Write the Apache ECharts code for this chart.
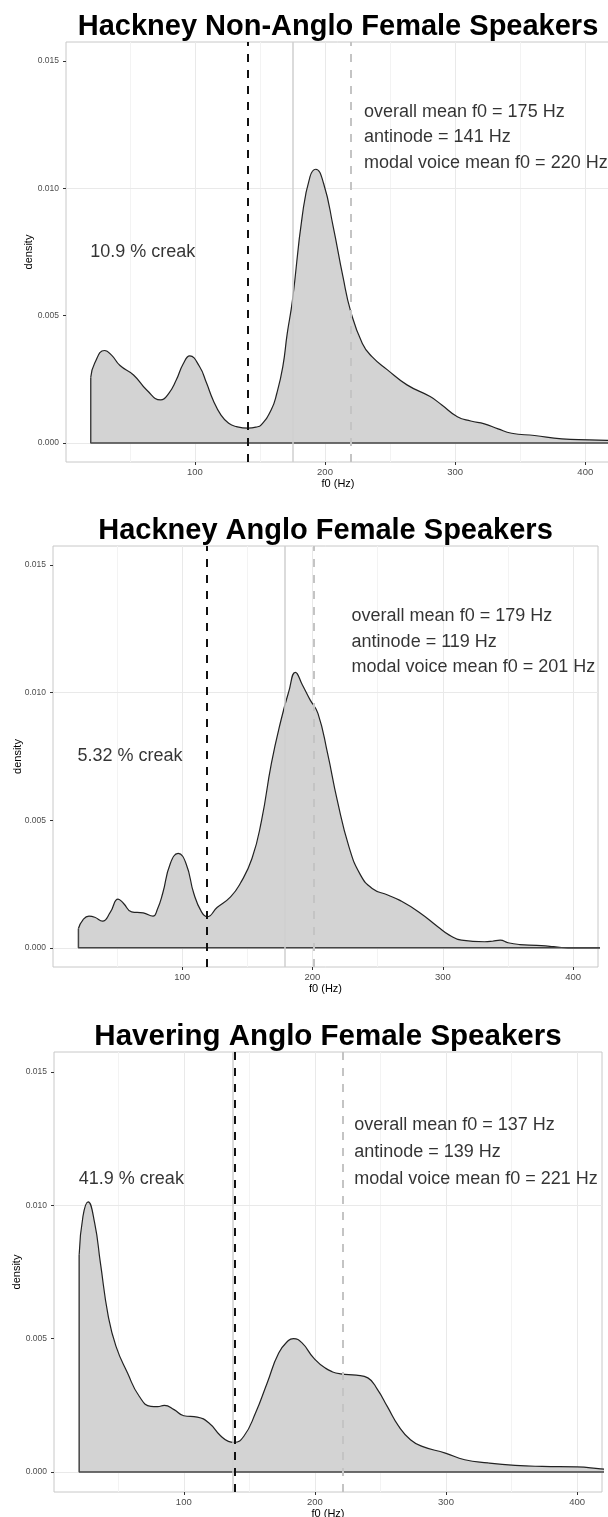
<!DOCTYPE html>
<html><head><meta charset="utf-8">
<script src="https://cdn.jsdelivr.net/npm/echarts@6/dist/echarts.min.js"></script>
<style>html,body{margin:0;padding:0;background:#fff}#c{width:608px;height:1517px}</style>
</head><body><div id="c"></div>
<script>
// ---- data ----
const titles = ['Hackney Non-Anglo Female Speakers', 'Hackney Anglo Female Speakers', 'Havering Anglo Female Speakers'];
const creakText = ['10.9 % creak', '5.32 % creak', '41.9 % creak'];
const creakX = [60, 60, 60];
const creakY = [0.0075, 0.0075, 0.011];
const overallMean = [175, 179, 137];
const antinode = [141, 119, 139];
const modalMean = [220, 201, 221];
const infoX = [230, 230, 230];
const infoY = [0.012, 0.012, 0.012];

const xTicks = [100, 200, 300, 400];
const xMinor = [50, 150, 250, 350];
const yTicks = [0, 0.005, 0.010, 0.015];
const yMinor = [0.0025, 0.0075, 0.0125];

// Panel 1: Hackney Non-Anglo (density in 1e-3 units)
const f0_1 = [20, 23, 30.6, 36, 42.5, 52.9, 63, 73.8, 80, 85.7, 91, 96.1, 103.6, 109, 114, 120, 126, 132, 140.8, 147, 151, 158.7, 163, 167.6, 171, 175, 182.5, 188.5, 192.9, 198.9, 206.3, 213.8, 219.8, 228.7, 236.1, 248, 263, 280.8, 289.8, 301.7, 312, 322.5, 333, 343.4, 361, 382, 403, 417, 430];
const dens_1 = [2.57, 3.13, 3.63, 3.45, 3.04, 2.67, 2.08, 1.69, 1.95, 2.47, 3.1, 3.42, 3.0, 2.35, 1.69, 1.1, 0.77, 0.64, 0.58, 0.62, 0.71, 1.30, 1.95, 3.0, 4.3, 5.6, 8.9, 10.46, 10.75, 10.2, 8.5, 6.53, 5.16, 3.91, 3.39, 2.87, 2.28, 1.82, 1.49, 1.03, 0.86, 0.75, 0.55, 0.38, 0.29, 0.16, 0.12, 0.10, 0.09];

// Panel 2: Hackney Anglo
const f0_2 = [20.5, 24, 28.6, 33, 39, 45, 50.9, 55, 61.3, 70.2, 77.7, 81, 85.1, 91, 97, 103, 109, 114.9, 119.3, 126.8, 137.2, 144.6, 153.6, 161, 168.5, 175.9, 181.8, 186.9, 192.3, 198.2, 204.2, 211.6, 219, 228, 236.9, 245.8, 257.7, 266.7, 281.5, 296.4, 305, 314.3, 332, 338, 344, 350, 359, 372, 382, 388, 396, 430];
const dens_2 = [0.76, 1.1, 1.24, 1.2, 1.05, 1.4, 1.91, 1.75, 1.41, 1.37, 1.24, 1.5, 2.13, 3.31, 3.70, 3.31, 2.13, 1.41, 1.22, 1.58, 2.0, 2.52, 3.50, 5.01, 7.23, 8.93, 10.04, 10.80, 10.30, 9.72, 9.19, 7.62, 5.79, 3.96, 2.85, 2.33, 2.07, 1.87, 1.41, 0.82, 0.5, 0.30, 0.24, 0.26, 0.30, 0.2, 0.13, 0.1, 0.06, 0.03, 0.0, 0.0];

// Panel 3: Havering Anglo
const f0_3 = [20.2, 23.1, 27, 32, 36.4, 42.4, 48.3, 57.1, 66, 74.9, 80, 85.2, 92.6, 100, 110.3, 119.2, 128, 134, 138.4, 145.8, 154.7, 163.6, 172.4, 179.8, 183.7, 190.2, 199, 207.9, 219.7, 231.5, 240.4, 247.8, 255.2, 264, 272.9, 281.8, 299.5, 314.3, 332, 352.7, 373.4, 400, 418, 430];
const dens_3 = [8.15, 9.59, 10.13, 9.34, 7.84, 5.84, 4.71, 3.71, 2.84, 2.46, 2.45, 2.5, 2.34, 2.11, 2.06, 1.84, 1.36, 1.15, 1.11, 1.34, 2.21, 3.34, 4.46, 4.93, 5.0, 4.84, 4.28, 3.9, 3.68, 3.63, 3.53, 3.09, 2.46, 1.71, 1.21, 0.96, 0.71, 0.46, 0.34, 0.25, 0.21, 0.19, 0.12, 0.08];

const f0s = [f0_1, f0_2, f0_3];
const denss = [dens_1, dens_2, dens_3];

// ---- layout ----
const grids = [
  {left: 66, top: 42, width: 544, height: 420},
  {left: 53, top: 546, width: 545, height: 421},
  {left: 54, top: 1052, width: 548, height: 440}
];
const yNameGap = [31.5, 29.5, 32];
const titleSize = [29, 29, 29.5];
const infoLineH = [25.3, 25.5, 26.6];
const FONT = '"Liberation Sans", Arial, Helvetica, sans-serif';

const xAxes = [], yAxes = [], series = [], graphics = [];
for (let i = 0; i < 3; i++) {
  xAxes.push({
    type: 'value', gridIndex: i, min: 1, max: 419,
    axisLine: {show: false, onZero: false},
    splitLine: {show: false},
    axisTick: {show: true, length: 3, lineStyle: {color: '#333', width: 1}, customValues: xTicks},
    axisLabel: {customValues: xTicks, fontSize: 9.5, color: '#4d4d4d', margin: 5, fontFamily: FONT},
    name: 'f0 (Hz)', nameLocation: 'middle', nameGap: 16, nameMoveOverlap: false,
    nameTextStyle: {fontSize: 11, color: '#000', fontFamily: FONT}
  });
  yAxes.push({
    type: 'value', gridIndex: i, min: -0.00075, max: 0.01575,
    axisLine: {show: false, onZero: false},
    splitLine: {show: false},
    axisTick: {show: true, length: 3, lineStyle: {color: '#333', width: 1}, customValues: yTicks},
    axisLabel: {customValues: yTicks, fontSize: 8.5, color: '#4d4d4d', margin: 7, fontFamily: FONT,
      formatter: v => Number(v).toFixed(3)},
    name: 'density', nameLocation: 'middle', nameGap: yNameGap[i], nameRotate: 90, nameMoveOverlap: false,
    nameTextStyle: {fontSize: 11, color: '#000', fontFamily: FONT}
  });

  const f0 = f0s[i], d = denss[i];
  const pts = f0.map((x, j) => [x, d[j] / 1000]);
  const major = {color: '#e9e9e9', width: 1, type: 'solid'};
  const minor = {color: '#f3f3f3', width: 1, type: 'solid'};

  // gridlines (behind)
  series.push({
    type: 'line', xAxisIndex: i, yAxisIndex: i, data: [[f0[0], 0]],
    symbol: 'none', showSymbol: false, lineStyle: {width: 0}, silent: true, z: 0,
    markLine: {
      silent: true, symbol: 'none', label: {show: false}, animation: false, z: 0,
      data: [
        ...xMinor.map(v => ({xAxis: v, lineStyle: minor})),
        ...yMinor.map(v => ({yAxis: v, lineStyle: minor})),
        ...xTicks.map(v => ({xAxis: v, lineStyle: major})),
        ...yTicks.map(v => ({yAxis: v, lineStyle: major}))
      ]
    }
  });
  // density area
  series.push({
    type: 'line', xAxisIndex: i, yAxisIndex: i, data: pts,
    smooth: 0.5, symbol: 'none', showSymbol: false,
    lineStyle: {color: '#222', width: 1.2},
    areaStyle: {color: '#d3d3d3', opacity: 1},
    z: 2, silent: true
  });
  // polygon edges (left side and baseline) + vertical reference lines
  series.push({
    type: 'line', xAxisIndex: i, yAxisIndex: i,
    data: [[f0[0], d[0] / 1000], [f0[0], 0], [f0[f0.length - 1], 0]],
    symbol: 'none', showSymbol: false,
    lineStyle: {color: '#444', width: 1.5},
    z: 3, silent: true,
    markLine: {
      silent: true, symbol: 'none', label: {show: false}, animation: false, z: 4,
      data: [
        {xAxis: overallMean[i], lineStyle: {color: '#cfcfcf', width: 1.5, type: 'solid'}},
        {xAxis: modalMean[i], lineStyle: {color: '#c4c4c4', width: 2, type: [8, 8]}},
        {xAxis: antinode[i], lineStyle: {color: '#111', width: 2, type: [8, 8]}}
      ]
    }
  });
  // annotations
  series.push({
    type: 'scatter', xAxisIndex: i, yAxisIndex: i, symbolSize: 0, silent: true, z: 6,
    data: [[creakX[i], creakY[i]]],
    label: {show: true, position: 'inside', formatter: creakText[i], fontSize: 18,
      color: '#000', align: 'center', verticalAlign: 'middle', fontFamily: FONT}
  });
  series.push({
    type: 'scatter', xAxisIndex: i, yAxisIndex: i, symbolSize: 0, silent: true, z: 6,
    data: [[infoX[i], infoY[i]]],
    label: {show: true, position: 'inside',
      formatter: 'overall mean f0 = ' + overallMean[i] + ' Hz\nantinode = ' + antinode[i] +
        ' Hz\nmodal voice mean f0 = ' + modalMean[i] + ' Hz',
      fontSize: 18, lineHeight: infoLineH[i], color: '#000', align: 'left', verticalAlign: 'middle',
      fontFamily: FONT}
  });
  graphics.push({
    type: 'text', x: grids[i].left + grids[i].width / 2, y: grids[i].top - 15, silent: true,
    style: {text: titles[i], fontSize: titleSize[i], fontWeight: 'bold', fontFamily: FONT,
      fill: '#000', align: 'center', verticalAlign: 'middle'}
  });
}

const chart = echarts.init(document.getElementById('c'), null, {renderer: 'canvas'});
chart.setOption({
  animation: false,
  backgroundColor: '#fff',
  grid: grids.map(g => Object.assign({show: true, borderColor: '#c8c8c8', borderWidth: 1, backgroundColor: 'transparent', containLabel: false, outerBoundsMode: 'none'}, g)),
  xAxis: xAxes,
  yAxis: yAxes,
  series: series,
  graphic: graphics
});
</script></body></html>
